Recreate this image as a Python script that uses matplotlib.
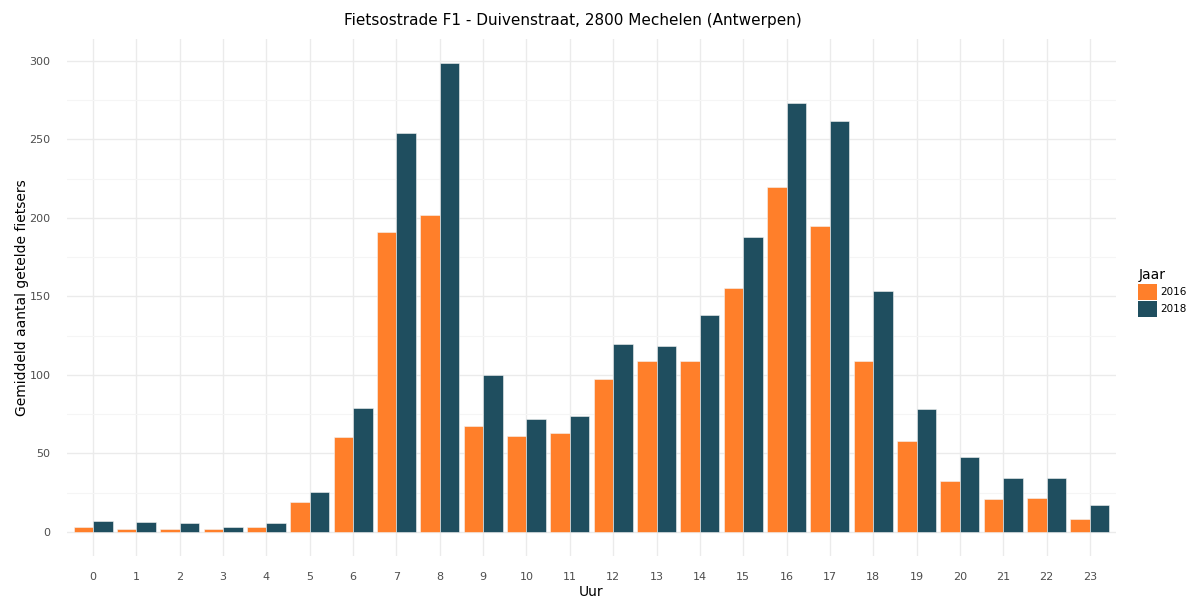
import numpy as np
import matplotlib.pyplot as plt
from matplotlib.patches import Patch

uren = list(range(24))
jaren = ['2016', '2018']
fiets_2016 = [3, 2, 2, 2, 3, 19, 60.5, 191, 202, 67.5, 61, 63,
              97.5, 109, 109, 155.5, 220, 195, 109, 58, 32.5, 21, 21.5, 8]
fiets_2018 = [7, 6.5, 5.5, 3, 5.5, 25.5, 79, 254, 299, 100, 72, 74,
              120, 118.5, 138, 188, 273, 262, 153.5, 78, 47.5, 34.5, 34.5, 17]

kleuren = ['#FF7F2A', '#1F4E5F']

fig = plt.figure(figsize=(11.92, 6.04), dpi=100)
ax = fig.add_axes([67/1192, 1 - 555.5/604, 1049/1192, 516.5/604])

x = np.arange(len(uren))
w = 0.45
ax.bar(x - w/2, fiets_2016, w, color=kleuren[0], edgecolor='#f4f4f4', linewidth=0.4, zorder=3)
ax.bar(x + w/2, fiets_2018, w, color=kleuren[1], edgecolor='#f4f4f4', linewidth=0.4, zorder=3)

ax.set_xlim(-0.6, 23.6)
ax.set_ylim(-15, 314)
ax.set_xticks(x)
ax.set_xticklabels([str(u) for u in uren])
ax.set_yticks([0, 50, 100, 150, 200, 250, 300])
ax.set_yticks([25, 75, 125, 175, 225, 275], minor=True)

ax.grid(True, which='major', color='#ebebeb', linewidth=1.0, zorder=0)
ax.grid(True, which='minor', axis='y', color='#f5f5f5', linewidth=0.8, zorder=0)
for s in ax.spines.values():
    s.set_visible(False)
ax.tick_params(which='both', length=0, labelsize=8, colors='#4d4d4d')
ax.tick_params(axis='x', pad=12)
ax.tick_params(axis='y', pad=12)

ax.set_xlabel('Uur', fontsize=10, labelpad=2)
ax.set_ylabel('Gemiddeld aantal getelde fietsers', fontsize=10, labelpad=0)

fig.text(573/1192, 1 - 20/604, 'Fietsostrade F1 - Duivenstraat, 2800 Mechelen (Antwerpen)',
         ha='center', va='center', fontsize=11)

handles = [Patch(facecolor=kleuren[i], label=jaren[i]) for i in range(2)]
leg = fig.legend(handles=handles, title='Jaar', loc='upper left',
                 bbox_to_anchor=(1131/1192, 1 - 261/604), frameon=False,
                 fontsize=7.5, title_fontsize=10, handlelength=1.8, handleheight=2.0,
                 handletextpad=0.35, labelspacing=0.12, borderpad=0.2)
leg._legend_box.align = 'left'

fig.savefig('out.png', dpi=100)
